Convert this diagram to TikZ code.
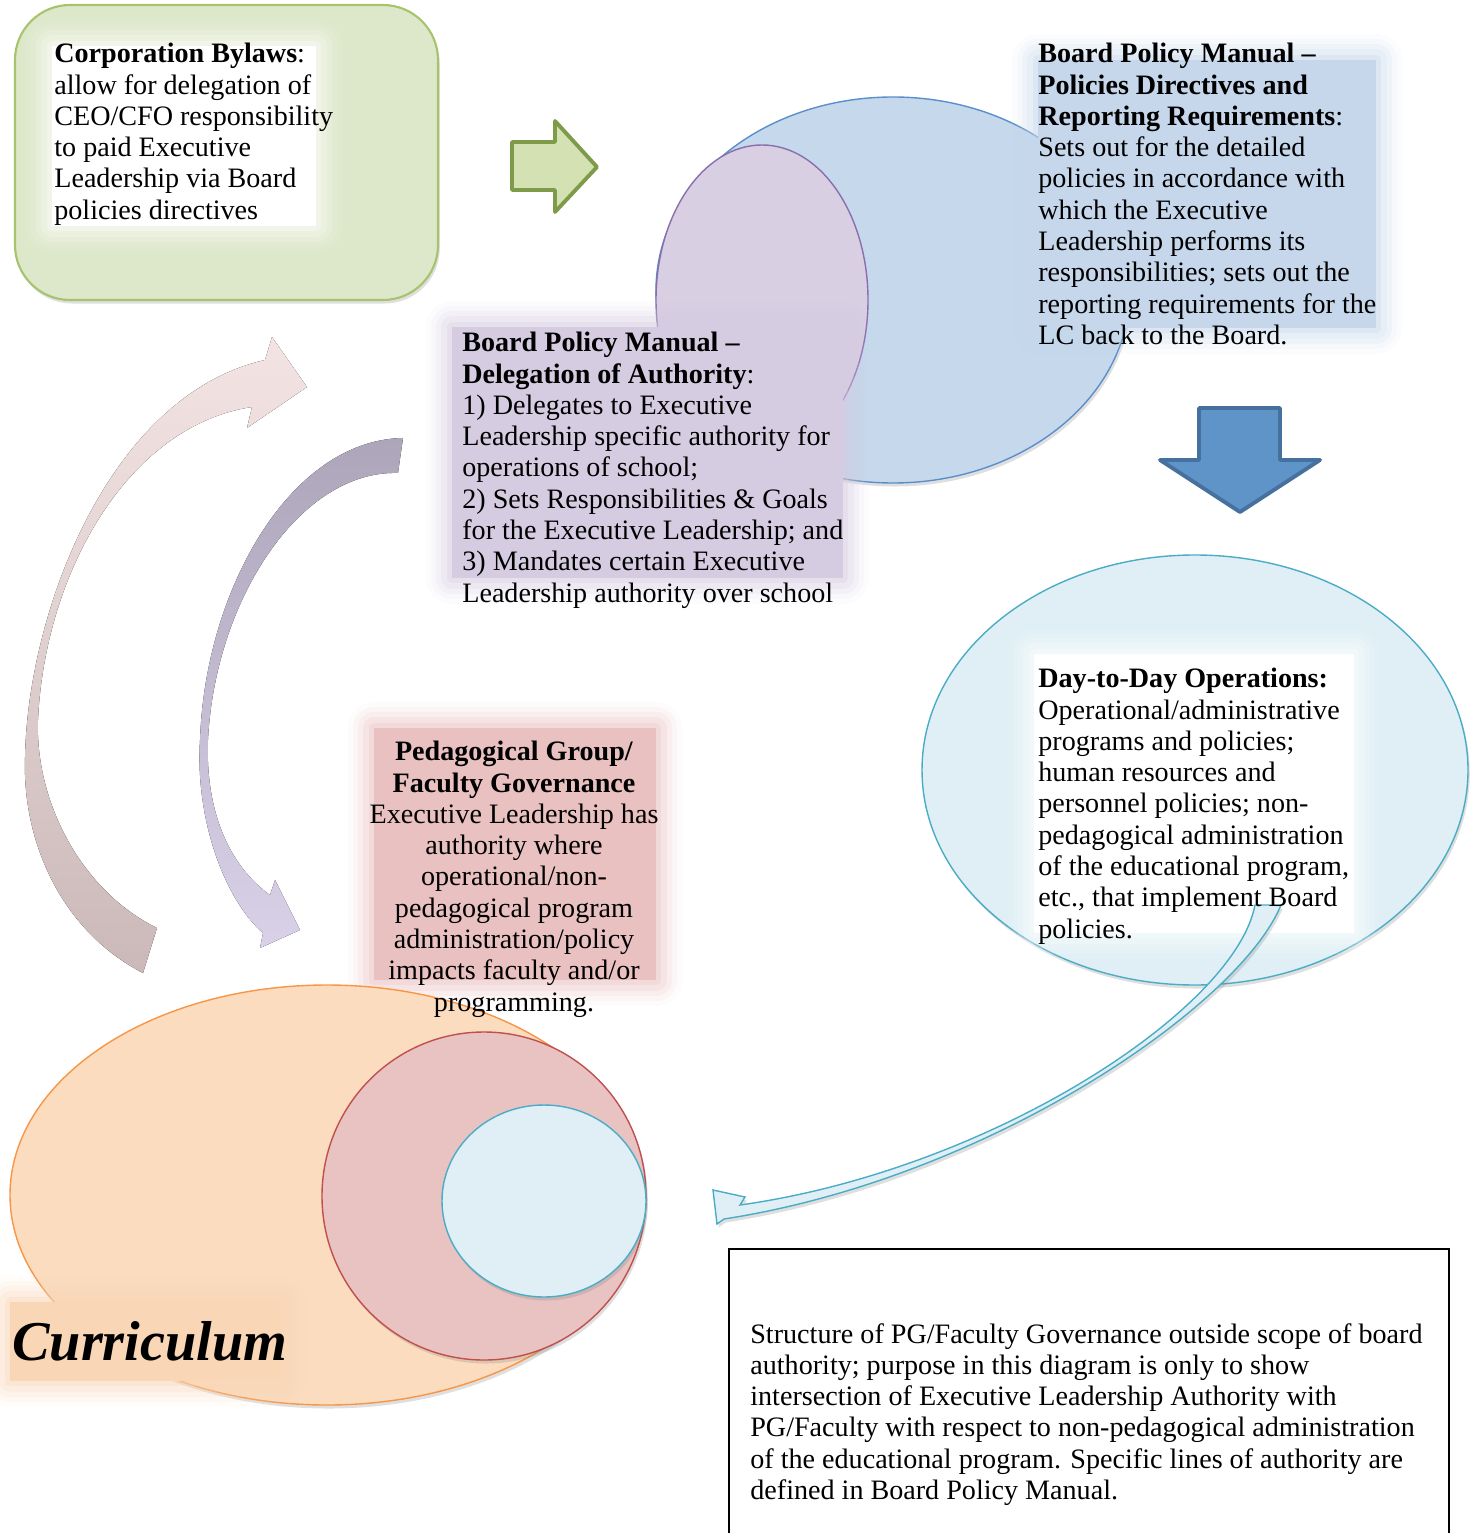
\documentclass[tikz,border=0pt]{standalone}
\usepackage{fontspec}
\setmainfont{Liberation Serif}
\usetikzlibrary{shadows}

\definecolor{bylawgreen}{HTML}{DDE8CB}
\definecolor{bylawline}{HTML}{A7C36D}
\definecolor{arrowgreen}{HTML}{D3E1B3}
\definecolor{arrowgreenline}{HTML}{7E9B4A}
\definecolor{manualblue}{HTML}{C5D8EC}
\definecolor{manualline}{HTML}{5B8FCB}
\definecolor{policybg}{HTML}{C6D7EB}
\definecolor{delegpurple}{HTML}{D8CFE3}
\definecolor{delegline}{HTML}{8A6FAE}
\definecolor{delegbg}{HTML}{D5CCE2}
\definecolor{arrowblue}{HTML}{5F94C9}
\definecolor{arrowblueline}{HTML}{46719F}
\definecolor{opsblue}{HTML}{DFEFF5}
\definecolor{opsline}{HTML}{4BACC6}
\definecolor{pedpink}{HTML}{E9C2C2}
\definecolor{pedline}{HTML}{C0504D}
\definecolor{pedbg}{HTML}{E9C1C1}
\definecolor{currorange}{HTML}{FBDCBE}
\definecolor{currline}{HTML}{F79646}
\definecolor{currbg}{HTML}{F9D6B6}
\definecolor{pinktop}{HTML}{F3E4E3}
\definecolor{pinkbottom}{HTML}{CBB9B9}
\definecolor{lilactop}{HTML}{ADA6BB}
\definecolor{lilacbottom}{HTML}{D9D1E7}

\begin{document}
\begin{tikzpicture}[x=0.02cm, y=-0.02cm,
  txt/.style={inner sep=0pt, align=left, font=\fontsize{16}{17.8}\selectfont},
  glow/.style={fill=#1,
    preaction={draw=#1, line join=round, line width=30pt, opacity=.07},
    preaction={draw=#1, line join=round, line width=24pt, opacity=.1},
    preaction={draw=#1, line join=round, line width=18pt, opacity=.15},
    preaction={draw=#1, line join=round, line width=12pt, opacity=.2},
    preaction={draw=#1, line join=round, line width=6pt, opacity=.3}},
  softshadow/.style={drop shadow={opacity=.25, shadow xshift=1pt, shadow yshift=-2pt}}]

\useasboundingbox (0,0) rectangle (1481,1533);

% Corporation bylaws box
\draw[bylawline, fill=bylawgreen, line width=1.2pt, rounded corners=1.1cm, softshadow] (15,5) rectangle (438,300);
\path[glow=white] (52,46) rectangle (316,226);
\node[txt, anchor=north west] (bylaws) at (54,43) {\textbf{Corporation Bylaws}:\\ allow for delegation of\\ CEO/CFO responsibility\\ to paid Executive\\ Leadership via Board\\ policies directives};

% Green arrow
\draw[arrowgreenline, fill=arrowgreen, line width=2.2pt, line join=round] (512,142) -- (555,142) -- (555,121) -- (597,167) -- (555,212) -- (555,190) -- (512,190) -- cycle;

% Board policy manual ellipses
\draw[manualline, fill=manualblue, line width=0.8pt, softshadow] (893,290) ellipse [x radius=237, y radius=193];
\draw[delegline, fill=delegpurple, line width=0.8pt] (762,300) ellipse [x radius=106, y radius=155];

% Policies directives text
\path[glow=policybg] (1038,60) rectangle (1376,328);
\node[txt, anchor=north west] (policies) at (1038,43) {\textbf{Board Policy Manual –}\\ \textbf{Policies Directives and}\\ \textbf{Reporting Requirements}:\\ Sets out for the detailed\\ policies in accordance with\\ which the Executive\\ Leadership performs its\\ responsibilities; sets out the\\ reporting requirements for the\\ LC back to the Board.};

% Delegation text
\path[glow=delegbg] (452,327) rectangle (843,578);
\node[txt, anchor=north west] (delegation) at (462,332) {\textbf{Board Policy Manual –}\\ \textbf{Delegation of Authority}:\\ 1) Delegates to Executive\\ Leadership specific authority for\\ operations of school;\\ 2) Sets Responsibilities \& Goals\\ for the Executive Leadership; and\\ 3) Mandates certain Executive\\ Leadership authority over school};

% Down arrow
\draw[arrowblueline, fill=arrowblue, line width=2.2pt, line join=round] (1199,408) -- (1280,408) -- (1280,460) -- (1320,460) -- (1240,512) -- (1160,460) -- (1199,460) -- cycle;

% Day-to-day operations
\draw[opsline, fill=opsblue, line width=0.8pt, softshadow] (1195,770) ellipse [x radius=273, y radius=215];
\path[glow=white] (1034,654) rectangle (1354,933);
\draw[opsline, fill=opsblue, line width=0.8pt, softshadow] (1255,905) .. controls (1235,1010) and (990,1170) .. (740,1205) -- (745,1197) -- (713,1190) -- (717,1224) -- (724,1219) .. controls (990,1178) and (1240,1005) .. (1281,905) -- cycle;
\node[txt, anchor=north west] (dayday) at (1038,668) {\textbf{Day-to-Day Operations:}\\ Operational/administrative\\ programs and policies;\\ human resources and\\ personnel policies; non-\\ pedagogical administration\\ of the educational program,\\ etc., that implement Board\\ policies.};

% Curved arrows on the left
\fill[top color=pinktop, bottom color=pinkbottom] (143,973) .. controls (60,930) and (22,840) .. (25,757) .. controls (28,610) and (110,395) .. (265,360) -- (272,337) -- (307,387) -- (247,428) -- (252,407) .. controls (130,425) and (45,570) .. (38,720) .. controls (35,800) and (80,890) .. (157,928) -- cycle;
\fill[top color=lilactop, bottom color=lilacbottom] (403,438) -- (398,473) .. controls (300,470) and (215,600) .. (208,740) .. controls (205,820) and (235,870) .. (270,895) -- (275,880) -- (300,930) -- (260,948) -- (263,933) .. controls (225,900) and (195,820) .. (200,740) .. controls (205,590) and (290,440) .. (403,438) -- cycle;

% Pedagogical group background
\path[glow=pedbg] (374,728) rectangle (656,980);

% Curriculum ellipses
\draw[currline, fill=currorange, line width=0.8pt, softshadow] (327,1195) ellipse [x radius=317, y radius=210];
\draw[pedline, fill=pedpink, line width=0.8pt, softshadow] (484,1196) ellipse [x radius=162, y radius=164];
\draw[opsline, fill=opsblue, line width=0.8pt, softshadow] (544,1201) ellipse [x radius=102, y radius=96];
\path[glow=currbg] (10,1302) rectangle (280,1381);
\node[anchor=base west, inner sep=0pt, font=\fontsize{32}{36}\selectfont\bfseries\itshape] (curric) at (12,1360) {Curriculum};

% Pedagogical group text
\node[txt, align=center, anchor=north] (pedagog) at (514,741) {\textbf{Pedagogical Group/}\\ \textbf{Faculty Governance}\\ Executive Leadership has\\ authority where\\ operational/non-\\ pedagogical program\\ administration/policy\\ impacts faculty and/or\\ programming.};

% Note box
\draw[line width=1.2pt] (729,1533) -- (729,1249) -- (1449,1249) -- (1449,1533);
\node[txt, anchor=north west] (note) at (750,1323) {Structure of PG/Faculty Governance outside scope of board\\ authority; purpose in this diagram is only to show\\ intersection of Executive Leadership Authority with\\ PG/Faculty with respect to non-pedagogical administration\\ of the educational program. Specific lines of authority are\\ defined in Board Policy Manual.};

\end{tikzpicture}
\end{document}
